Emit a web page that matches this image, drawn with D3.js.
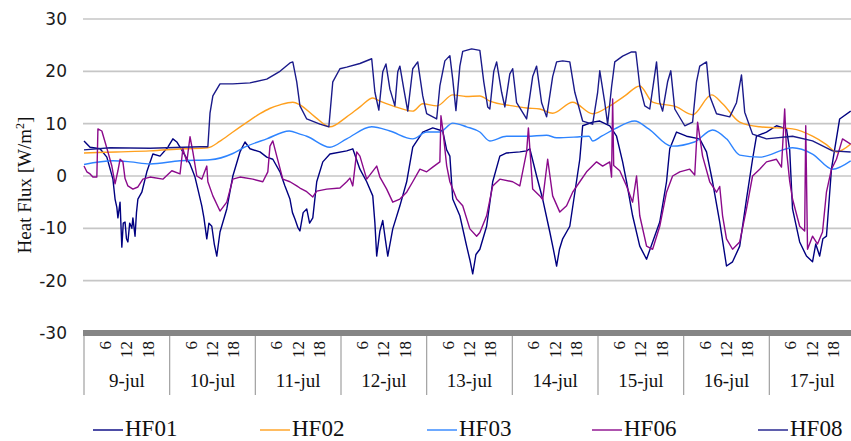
<!DOCTYPE html>
<html>
<head>
<meta charset="utf-8">
<script src="https://cdn.jsdelivr.net/npm/d3@7"></script>
<style>
  html, body { margin: 0; padding: 0; background: #fff; }
  svg { display: block; }
</style>
</head>
<body>
<svg id="chart" width="851" height="441"></svg>
<script>
// Heat flux measurements, 9-jul .. 17-jul. Each point: [hours since 9-jul 00:00, W/m2]
const dayLabels = ["9-jul", "10-jul", "11-jul", "12-jul", "13-jul", "14-jul", "15-jul", "16-jul", "17-jul"];
const hourTicks = [6, 12, 18];
const yTicks = [-30, -20, -10, 0, 10, 20, 30];
const seriesNames = ["HF01", "HF02", "HF03", "HF06", "HF08"];

const hf01 = [[0,6.7],[1.7,5.5],[4.5,5.2],[6.4,3.6],[8.1,-0.6],[8.7,-4.4],[9.2,-6],[9.5,-8],[10.1,-5],[10.6,-13.6],[11,-9],[11.5,-8.8],[11.9,-12],[12.3,-12.6],[12.8,-9],[13.4,-10],[13.7,-8],[14.3,-11.5],[14.7,-7],[15.1,-4.4],[16.2,-3.1],[17.6,0.8],[19.3,4.2],[21.3,3.8],[23.5,5.5],[24.9,7.1],[26,6.5],[27.7,4.6],[29.7,2.3],[31.1,-0.2],[31.9,-2.5],[33,-5.7],[33.6,-8],[34.4,-12],[35,-9],[35.8,-9.6],[36.5,-13],[37.2,-15.3],[38.1,-10.7],[40,-6.3],[41.7,0],[43.7,4.6],[45.1,6.5],[46.5,5.2],[49.3,4.6],[51.2,3.6],[52.9,3.2],[54.9,0.8],[56.3,-1.9],[57.7,-4.4],[58.4,-7],[59.1,-8.2],[59.9,-9.8],[60.5,-10.5],[61.4,-7],[62.4,-6.3],[63.2,-9],[64.1,-8],[65.2,-1.1],[66.9,2.7],[68.9,4.2],[73.6,4.8],[75.3,5.2],[77.3,1.3],[79.2,-1.1],[80.9,-3.8],[81.5,-9],[82,-15.3],[82.9,-10.5],[83.7,-8.5],[84.4,-12],[85.1,-15.3],[86.5,-10.1],[88.5,-5.7],[90.4,-1.1],[92.1,5.5],[94.9,8.4],[97.7,9.2],[100.5,8.6],[101.6,5],[102.5,3.8],[103.3,-4.4],[105.3,-7.6],[107.2,-13.4],[108.1,-16],[108.9,-18.7],[109.8,-15],[110.9,-14],[112.8,-9.6],[114.5,-1.1],[116.5,3.8],[118.4,4.4],[122.1,4.6],[124,4.8],[124.9,5.2],[126.8,0],[128.5,-4.4],[130.5,-10.7],[131.5,-14],[132.4,-17.2],[133.2,-14],[134.1,-12],[136.1,-9.6],[138.9,3.2],[139.7,9.6],[142.5,10.3],[144.5,10.5],[147.3,9.6],[149.2,7.6],[150.9,2.7],[152,-1.1],[153.7,-7.6],[155.7,-13.4],[157.6,-15.9],[159.3,-12.6],[161.3,-8.8],[163.2,-1.1],[164.1,5.2],[166,8.4],[168.8,7.6],[172.5,7.1],[174.4,4.6],[176.1,-1.1],[178.1,-8.8],[180,-17.2],[181.7,-16.4],[183.7,-13.4],[185.6,-4.4],[187.3,3.2],[188.4,7.6],[191.2,8.4],[194,9.6],[196.8,9.0],[197.7,5],[198.5,-6.3],[200.5,-12.6],[202.4,-15.3],[204.1,-16.4],[205,-13],[206.1,-15.3],[207,-12],[208,-11.5],[209.4,1.3],[211.7,10.9],[214.8,12.4]];

const hf02 = [[0,4.4],[9,4.6],[18.5,4.8],[27.7,5.2],[34.7,5.4],[38,6.6],[41.7,8.4],[45.5,10.2],[49.3,11.9],[52,12.9],[54.9,13.6],[58.5,14.1],[60.5,13.6],[64.7,11.3],[68.9,9.4],[73.6,11.3],[77.5,13.3],[80.9,14.9],[82.9,14.3],[86.5,13.4],[92.1,12.4],[94.9,13.8],[98.9,13.4],[103.3,15.5],[107,15.2],[110.9,15.3],[113.7,14.3],[120.1,13.4],[124,13.0],[127.7,12.8],[131.3,12.0],[136.9,14.1],[142.5,11.9],[147.3,13.4],[151.5,15.3],[155.7,17.2],[159.3,14.1],[166,13.2],[170.5,11.7],[175.8,15.5],[178.9,13.8],[183.7,10.3],[189.3,9.4],[194,9.2],[198.5,9.0],[204.1,7.6],[208,6.0],[210.8,4.6],[214.8,6.1]];

const hf03 = [[0,2.2],[8.1,2.9],[13,2.7],[18.5,2.3],[26.9,2.9],[35.3,3.1],[41.7,4.3],[45,5.5],[51.2,7.1],[57.5,8.6],[60.5,8.0],[62.4,7.6],[68.9,5.5],[73.6,7.1],[80.6,9.4],[85.7,8.6],[92.1,7.1],[96,8.4],[99.7,8.4],[103.3,10.1],[107.2,9.4],[110.9,8.4],[113.7,6.7],[118.4,7.6],[124,7.6],[129.6,7.8],[132.4,7.3],[138.9,7.5],[141.5,7.6],[142.5,6.7],[145,7.6],[148.7,9.0],[154.3,10.5],[158.2,9.0],[164.6,5.7],[171,6.5],[176.1,8.8],[180,7.1],[183.7,4.0],[189.3,3.6],[198.5,5.4],[204.1,4.2],[209.7,1.3],[214.8,2.9]];

const hf06 = [[0,1.9],[0.8,0.8],[1.7,0.4],[2.5,-0.2],[3.6,-0.2],[3.9,9.0],[5,8.6],[5.9,6.5],[6.7,4.6],[7.8,1.9],[8.7,-1.5],[9.5,1.0],[10.1,3.2],[10.9,2.7],[11.5,-0.5],[12.3,-1.9],[13.7,-2.5],[15.1,-2.1],[16.5,-0.6],[18.5,-0.2],[22.1,-0.6],[24.6,1.0],[26.9,0.4],[27.7,5.2],[28.8,2.7],[29.7,7.5],[30.5,4.6],[31.6,0],[33,-0.6],[34.4,1.9],[34.7,-1.1],[36.1,-3.8],[38.1,-6.7],[40,-5.0],[41.7,-0.6],[43.7,-0.2],[47.3,-0.6],[50.1,-1.1],[51.5,0.8],[52.1,5.7],[52.9,6.7],[54,3.8],[55.7,-0.6],[57.7,-1.1],[59.6,-1.9],[60.5,-2.3],[62.4,-3.0],[64.1,-4.0],[65.2,-2.9],[68,-2.5],[71.7,-2.3],[73.6,-1.1],[74.5,-0.4],[75.3,-1.9],[76.4,4.6],[77.3,3.8],[79.2,-0.6],[82,1.9],[82.9,-0.2],[84.8,-2.5],[86.5,-5.0],[88.5,-4.4],[90.4,-3.1],[92.1,-1.1],[94.1,1.3],[96,0.8],[97.7,1.7],[99.7,2.7],[100,11.5],[100.5,9],[101.6,2],[102.5,-1.1],[104.4,-4.4],[106.1,-5.7],[108.1,-10.1],[110,-11.5],[110.9,-10.8],[112.8,-7.6],[114.5,-1.9],[116.5,-0.6],[120.1,-1.1],[122.1,-1.9],[124,4.6],[124.5,9.2],[125.7,-2.5],[127.7,-3.8],[128.5,-4.5],[129.9,3.2],[131.3,-3.8],[133.3,-6.9],[135.2,-5.7],[136.9,-3.1],[138.9,-1.1],[140.8,0.8],[143.6,2.7],[145.3,1.9],[147.3,2.7],[147.8,-0.2],[148.1,14.7],[148.4,2],[150.1,1.0],[152,-1.9],[153.7,-5],[154.8,0],[155.7,-7.6],[157.6,-13.4],[159.3,-14],[161.3,-9.6],[163.2,-3.1],[164.9,0],[166.9,0.8],[169.7,1.3],[171.1,0.2],[171.9,10.3],[173.3,3.8],[175.3,-1.1],[177.2,-3.1],[178.1,-2.0],[178.9,-7.6],[180,-12],[181.7,-14],[183.7,-12.6],[185.6,-6.3],[187.3,0],[189.3,1.3],[191.2,2.7],[194,3.2],[195.4,1.7],[196.3,12.8],[196.8,5],[197.7,-1],[198.5,-4.4],[200.5,-9.6],[201.9,-10.5],[202.2,9.6],[202.7,-14],[204.1,-11.5],[205.5,-13],[206.9,-10.7],[208,-3.1],[209.4,1.3],[210.8,3.2],[212.5,7.1],[214.8,6.1]];

const hf08 = [[0,5.0],[7.3,5.4],[18.5,5.3],[32.5,5.6],[34.7,5.6],[35.3,12],[36.1,15.3],[38.1,17.6],[41.7,17.6],[46.5,17.8],[51.2,18.5],[54.9,20],[57.7,21.6],[58.5,21.8],[59.6,18],[60.5,13.4],[62.4,10.9],[66.1,9.9],[68.6,9.4],[69.7,18],[71.7,20.5],[73.6,20.8],[77.3,21.5],[80.6,22.4],[81.5,16],[82.6,12.6],[83.7,19.9],[84.6,21.4],[85.7,16.6],[87.1,13.4],[87.9,19.9],[88.5,21],[89.6,16.6],[90.7,12.4],[92.1,20.5],[93.5,21.8],[94.9,15.3],[96,11.9],[98.8,10.9],[99.7,17.2],[101.1,22],[102.5,23],[103.3,18.5],[104.2,12.5],[105.3,21],[106.1,23.8],[108.6,24.3],[110.9,24],[112,18],[113.1,13.2],[113.7,12.8],[114.8,20],[115.6,21.8],[117,16],[117.9,13.2],[119.3,19.5],[120.1,20.5],[121.2,14],[124,10.9],[125.7,19],[126.8,21],[128.2,14],[129.6,11.3],[131.3,19],[132.4,21.8],[134.1,22],[136.1,21.8],[137.5,16],[139.7,10.5],[142.5,9.9],[143.9,16],[144.5,20.1],[145.9,14],[146.7,9.9],[147.8,17],[148.7,21.8],[150.9,22.9],[153.4,23.7],[154.6,23.7],[155.7,17.2],[157.1,13.4],[158.5,12.8],[159.6,18],[160.4,21.8],[161.3,14.1],[162.1,12.4],[163.5,18],[164.4,20.1],[165.5,12.8],[168.3,9.6],[170.5,10.3],[171.6,18],[172.5,21],[174.4,21.8],[175.3,15.3],[177.2,11.9],[180.9,11.3],[182.8,14],[184.2,19.3],[185.1,12.2],[187.3,8.0],[191.2,7.1],[198.5,7.6],[204.1,6.7],[209.7,4.8],[214.8,4.6]];

const seriesData = [hf01, hf02, hf03, hf06, hf08];
const seriesColors = ["#000080", "#FFA01E", "#2E84FF", "#8B0A8B", "#1A1A8A"];
const smoothSeries = [false, true, true, false, false];

const svg = d3.select("#chart");
const margin = { left: 84, top: 19, right: 855, bottom: 333 };

const x = d3.scaleLinear().domain([0, dayLabels.length * 24]).range([margin.left, margin.right]);
const y = d3.scaleLinear().domain([-30, 30]).range([margin.bottom, margin.top]);

// horizontal gridlines
svg.append("g")
  .selectAll("line")
  .data(yTicks.filter(t => t > -30))
  .join("line")
  .attr("x1", margin.left - 1).attr("x2", 851)
  .attr("y1", d => y(d)).attr("y2", d => y(d))
  .attr("stroke", "#c6c6c6").attr("stroke-width", 1.6);

// y tick labels
svg.append("g")
  .selectAll("text")
  .data(yTicks)
  .join("text")
  .attr("x", 67).attr("y", d => y(d))
  .attr("dy", "0.36em")
  .attr("text-anchor", "end")
  .attr("font-family", "DejaVu Sans, Verdana, sans-serif")
  .attr("font-size", 17)
  .attr("fill", "#1a1a1a")
  .text(d => d);

// y axis title
const yTitle = svg.append("text")
  .attr("transform", `translate(31,${(y(30) + y(-30)) / 2 + 9}) rotate(-90)`)
  .attr("text-anchor", "middle")
  .attr("font-family", "Liberation Serif, Times New Roman, serif")
  .attr("font-size", 19)
  .attr("fill", "#111");
yTitle.append("tspan").text("Heat Flux [W/m");
yTitle.append("tspan").attr("font-size", 12).attr("dy", -7).text("2");
yTitle.append("tspan").attr("dy", 7).text("]");

// series lines
const plot = svg.append("g");
seriesData.forEach((data, i) => {
  const line = d3.line()
    .x(d => x(d[0]))
    .y(d => y(d[1]))
    .curve(smoothSeries[i] ? d3.curveMonotoneX : d3.curveLinear);
  plot.append("path")
    .datum(data)
    .attr("d", line)
    .attr("fill", "none")
    .attr("stroke", seriesColors[i])
    .attr("stroke-width", 1.4)
    .attr("stroke-linejoin", "round");
});

// category axis: thick bar, day separators, hour and day labels
svg.append("line")
  .attr("x1", margin.left - 1).attr("x2", 851)
  .attr("y1", y(-30)).attr("y2", y(-30))
  .attr("stroke", "#858585").attr("stroke-width", 6);

const dayIdx = d3.range(dayLabels.length + 1);
svg.append("g")
  .selectAll("line")
  .data(dayIdx)
  .join("line")
  .attr("x1", d => x(d * 24)).attr("x2", d => x(d * 24))
  .attr("y1", y(-30) + 3).attr("y2", 395)
  .attr("stroke", "#a0a0a0").attr("stroke-width", 1.2);

const hourLabelData = [];
dayLabels.forEach((d, i) => hourTicks.forEach(h => hourLabelData.push({ t: i * 24 + h, label: h })));
svg.append("g")
  .selectAll("text")
  .data(hourLabelData)
  .join("text")
  .attr("transform", d => `translate(${x(d.t) + 5.5},341) rotate(-90)`)
  .attr("text-anchor", "end")
  .attr("font-family", "Liberation Serif, Times New Roman, serif")
  .attr("font-size", 17)
  .attr("fill", "#111")
  .text(d => d.label);

svg.append("g")
  .selectAll("text")
  .data(dayLabels)
  .join("text")
  .attr("x", (d, i) => x(i * 24 + 12))
  .attr("y", 387)
  .attr("text-anchor", "middle")
  .attr("font-family", "Liberation Serif, Times New Roman, serif")
  .attr("font-size", 19)
  .attr("fill", "#111")
  .text(d => d);

// legend
const legendX = [93, 260, 427, 592, 758];
const legend = svg.append("g")
  .selectAll("g")
  .data(seriesNames)
  .join("g")
  .attr("transform", (d, i) => `translate(${legendX[i]},430)`);
legend.append("line")
  .attr("x1", 0).attr("x2", 30)
  .attr("y1", 0).attr("y2", 0)
  .attr("stroke", (d, i) => seriesColors[i])
  .attr("stroke-width", 1.4);
legend.append("text")
  .attr("x", 32).attr("y", 6)
  .attr("font-family", "Liberation Serif, Times New Roman, serif")
  .attr("font-size", 23)
  .attr("fill", "#111")
  .text(d => d);
</script>
</body>
</html>
